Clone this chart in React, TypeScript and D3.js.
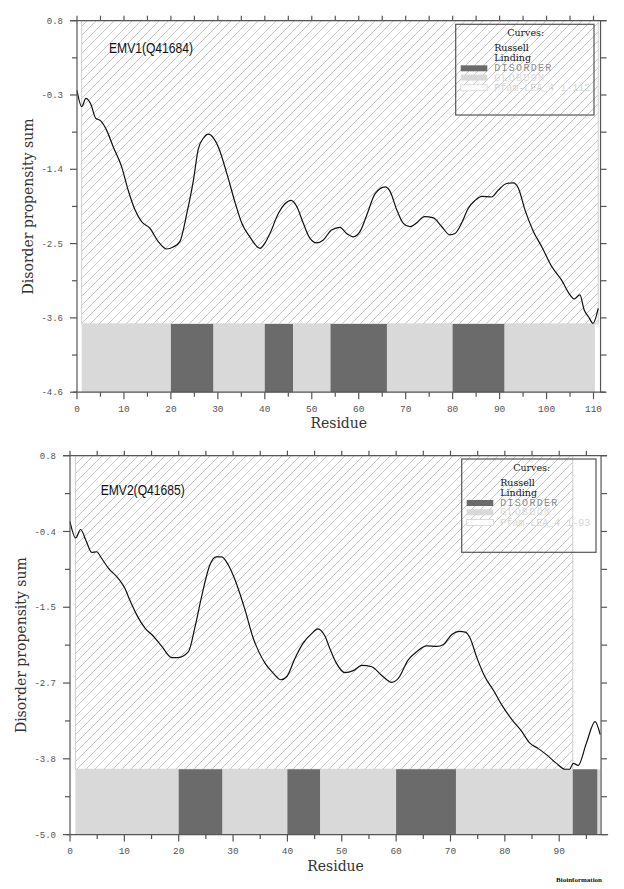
import React from "react";
import * as d3 from "d3";

// ---------- DATA ----------
const emv1Residues = [0, 1, 1.9, 2.9, 4, 5, 6.3, 7.7, 9.5, 10.9, 12.35, 13.8, 15.5, 17.3, 19.1, 20.5, 21.9, 23.4, 24.8, 25.8, 26.9, 28, 29, 30.1, 31.9, 33.7, 35.1, 36.8, 39, 40.05, 41.1, 42.9, 44.3, 45.6, 46.8, 48.2, 49.6, 51.05, 52.4, 54.2, 56, 57.4, 58.85, 60.3, 61.7, 63.5, 65.6, 66.7, 68.1, 69.5, 70.9, 72.4, 74, 75.9, 77.7, 79.4, 80.5, 81.9, 83.3, 84.8, 86.2, 88.3, 89.7, 91.5, 92.9, 94, 95.4, 97.2, 99, 101.1, 103.2, 105, 105.9, 107.1, 108, 109, 109.9, 111];
const emv1Values = [-0.23, -0.47, -0.35, -0.43, -0.645, -0.68, -0.82, -1.065, -1.36, -1.71, -2.0, -2.18, -2.27, -2.47, -2.58, -2.55, -2.47, -2.05, -1.56, -1.11, -0.94, -0.88, -0.93, -1.07, -1.46, -1.9, -2.2, -2.4, -2.57, -2.49, -2.35, -2.05, -1.91, -1.86, -1.95, -2.2, -2.42, -2.49, -2.45, -2.3, -2.26, -2.35, -2.4, -2.32, -2.08, -1.76, -1.66, -1.73, -2.0, -2.2, -2.25, -2.19, -2.1, -2.12, -2.25, -2.37, -2.35, -2.2, -1.98, -1.86, -1.8, -1.81, -1.71, -1.61, -1.6, -1.68, -2.0, -2.32, -2.55, -2.84, -3.04, -3.26, -3.32, -3.26, -3.48, -3.59, -3.68, -3.46];

const emv2Residues = [0, 1.04, 1.96, 2.9, 4, 4.9, 5.8, 7.05, 8.9, 10.1, 11, 12.3, 13.8, 15.3, 16.9, 18.7, 19.9, 21.8, 23, 24.2, 25.75, 26.9, 27.9, 29.1, 30.35, 32.2, 33.7, 35.9, 37.4, 38.8, 39.9, 41.4, 42.9, 44.5, 45.6, 46.9, 47.8, 48.9, 50.6, 52.1, 53.7, 55.5, 57.3, 59.2, 60.4, 62.2, 63.8, 65.6, 67.5, 68.7, 70.2, 71.7, 72.7, 73.6, 74.8, 76.3, 77.9, 79.4, 81.3, 83.1, 84.6, 86.1, 87.7, 89.5, 91.1, 91.9, 92.6, 93.5, 95, 96.6, 97.55];
const emv2Values = [-0.21, -0.46, -0.33, -0.49, -0.68, -0.67, -0.77, -0.92, -1.08, -1.23, -1.41, -1.64, -1.84, -1.96, -2.12, -2.29, -2.29, -2.2, -1.82, -1.36, -0.87, -0.75, -0.75, -0.87, -1.1, -1.56, -1.99, -2.38, -2.53, -2.63, -2.58, -2.3, -2.07, -1.92, -1.85, -1.96, -2.15, -2.36, -2.52, -2.49, -2.41, -2.43, -2.56, -2.67, -2.61, -2.33, -2.2, -2.11, -2.12, -2.09, -1.94, -1.89, -1.9, -1.99, -2.28, -2.58, -2.79, -3.01, -3.24, -3.42, -3.6, -3.68, -3.78, -3.91, -4.0, -4.0, -3.91, -3.94, -3.6, -3.27, -3.47];

const emv1DisorderStart = [20, 40, 54, 80];
const emv1DisorderEnd = [29, 46, 66, 91];
const emv2DisorderStart = [20, 40, 60, 92.5];
const emv2DisorderEnd = [28, 46, 71, 97];

const emv1YTickLabels = ["0.8", "-0.3", "-1.4", "-2.5", "-3.6", "-4.6"];
const emv2YTickLabels = ["0.8", "-0.4", "-1.5", "-2.7", "-3.8", "-5.0"];
const emv1XTicks = [0, 10, 20, 30, 40, 50, 60, 70, 80, 90, 100, 110];
const emv2XTicks = [0, 10, 20, 30, 40, 50, 60, 70, 80, 90];

const legendCurves = ["Russell", "Linding"];
const legendItems = ["DISORDER", "GLOBDOM"];

const MONO = "'Liberation Mono', 'DejaVu Sans Mono', monospace";
const SERIF = "'DejaVu Serif', 'Liberation Serif', serif";
const AXIS = "#555";
const LIGHT = "#d9d9d9";
const DARK = "#6b6b6b";

type ChartProps = {
  id: string;
  title: string;
  titleX: number;
  titleY: number;
  residues: number[];
  values: number[];
  dStart: number[];
  dEnd: number[];
  yLabels: string[];
  xTicks: number[];
  xDomainMax: number;
  xRange: [number, number];
  yDomain: [number, number];
  yRange: [number, number];
  bandTop: number;
  globEnd: number;
  pfamEnd: number;
  rightR: number;
  axisEndR: number;
  legendX: number;
  legendY: number;
  legendW: number;
  legendH: number;
  pfamLabel: string;
};

function Chart(p: ChartProps) {
  const x = d3.scaleLinear().domain([0, p.xDomainMax]).range(p.xRange);
  const y = d3.scaleLinear().domain(p.yDomain).range(p.yRange);
  const [yMin, yMax] = p.yDomain;
  const step = (yMax - yMin) / (p.yLabels.length - 1);
  const yTickVals = p.yLabels.map((_, i) => yMax - i * step);
  const yMinorVals = d3.range(p.yLabels.length - 1).map((i) => yMax - (i + 0.5) * step);
  const allY = [...yTickVals, ...yMinorVals];
  const top = y(yMax);
  const bottom = y(yMin);
  const left = x(0);
  const right = x(p.rightR);
  const minorX = d3.range(5, p.axisEndR, 10).filter((v) => v < p.rightR + 1);
  const topTicks = d3.range(0, p.rightR, 5);

  const line = d3
    .line<number>()
    .x((_, i) => x(p.residues[i]))
    .y((v) => y(v))
    .curve(d3.curveMonotoneX);

  const lx = p.legendX;
  const ly = p.legendY;

  return (
    <g>
      {/* Pfam hatched region */}
      <rect
        x={x(1)}
        y={top}
        width={x(p.pfamEnd) - x(1)}
        height={y(p.bandTop) - top}
        fill={`url(#hatch-${p.id})`}
        stroke="#cfcfcf"
        strokeWidth={1}
      />
      {/* GLOBDOM band */}
      <rect x={x(1)} y={y(p.bandTop)} width={x(p.globEnd) - x(1)} height={bottom - y(p.bandTop)} fill={LIGHT} />
      {p.dStart.map((s, i) => (
        <rect key={i} x={x(s)} y={y(p.bandTop)} width={x(p.dEnd[i]) - x(s)} height={bottom - y(p.bandTop)} fill={DARK} />
      ))}

      {/* legend */}
      <rect x={lx} y={ly} width={p.legendW} height={p.legendH} fill="none" stroke="#555" strokeWidth={1.2} />
      <text x={lx + 70} y={ly + 12} textAnchor="middle" fontFamily={SERIF} fontSize={9.5} fill="#222">Curves:</text>
      {legendCurves.map((t, i) => (
        <text key={t} x={lx + 38.5} y={ly + 27 + i * 10} fontFamily={SERIF} fontSize={9.5} fill="#111">{t}</text>
      ))}
      <rect x={lx + 5} y={ly + 41} width={26.6} height={6} fill={DARK} />
      <rect x={lx + 5} y={ly + 50.3} width={26.6} height={6} fill={LIGHT} />
      <rect x={lx + 5} y={ly + 60.5} width={26.6} height={6} fill="#fff" stroke="#d4d4d4" strokeWidth={0.8} />
      <text x={lx + 38.5} y={ly + 47} fontFamily={MONO} fontSize={10} letterSpacing={1.3} fill="#8c8c8c">{legendItems[0]}</text>
      <text x={lx + 38.5} y={ly + 56.3} fontFamily={MONO} fontSize={10} letterSpacing={1.3} fill="#dadada">{legendItems[1]}</text>
      <text x={lx + 38.5} y={ly + 66.5} fontFamily={MONO} fontSize={10} fill="#d6d6d6">{p.pfamLabel}</text>

      {/* curve */}
      <path d={line(p.values) || ""} fill="none" stroke="#111" strokeWidth={1.2} />

      {/* axes */}
      <line x1={left} x2={left} y1={top} y2={bottom} stroke={AXIS} strokeWidth={1.2} />
      <line x1={left - 7} x2={right + 6} y1={top} y2={top} stroke={AXIS} strokeWidth={1.2} />
      <line x1={right} x2={right} y1={top} y2={bottom} stroke={AXIS} strokeWidth={1.2} />
      <line x1={left - 4} x2={x(p.axisEndR)} y1={bottom} y2={bottom} stroke={AXIS} strokeWidth={1.2} />

      {yTickVals.map((v, i) => (
        <g key={"yt" + i}>
          <line x1={left - 7} x2={left} y1={y(v)} y2={y(v)} stroke={AXIS} strokeWidth={1.2} />
          <text x={left - 14} y={y(v)} dy="0.35em" textAnchor="end" fontFamily={MONO} fontSize={9} fill="#555">
            {p.yLabels[i]}
          </text>
        </g>
      ))}
      {yMinorVals.map((v, i) => (
        <line key={"ym" + i} x1={left - 5} x2={left} y1={y(v)} y2={y(v)} stroke={AXIS} strokeWidth={1.2} />
      ))}
      {allY.map((v, i) => (
        <line key={"yr" + i} x1={right} x2={right + 6} y1={y(v)} y2={y(v)} stroke={AXIS} strokeWidth={1.2} />
      ))}
      {topTicks.map((v, i) => (
        <line key={"tt" + i} x1={x(v)} x2={x(v)} y1={top - 5} y2={top} stroke={AXIS} strokeWidth={1.2} />
      ))}
      {p.xTicks.map((v) => (
        <g key={"xt" + v}>
          <line x1={x(v)} x2={x(v)} y1={bottom} y2={bottom + 7} stroke={AXIS} strokeWidth={1.2} />
          <text x={x(v)} y={bottom + 19.5} textAnchor="middle" fontFamily={MONO} fontSize={9.5} fill="#555">
            {v}
          </text>
        </g>
      ))}
      {minorX.map((v) => (
        <line key={"xm" + v} x1={x(v)} x2={x(v)} y1={bottom} y2={bottom + 4.5} stroke={AXIS} strokeWidth={1.2} />
      ))}

      {/* axis titles */}
      <text x={(left + x(p.rightR)) / 2} y={bottom + 36} textAnchor="middle" fontFamily={SERIF} fontSize={14} fill="#333">
        Residue
      </text>
      <text
        transform={`translate(${left - 44},${(top + bottom) / 2}) rotate(-90)`}
        textAnchor="middle"
        fontFamily={SERIF}
        fontSize={14}
        fill="#333"
      >
        Disorder propensity sum
      </text>

      {/* panel title */}
      <text x={p.titleX} y={p.titleY} fontFamily="'Liberation Sans', Arial, sans-serif" fontSize={14.5} textLength={84} lengthAdjust="spacingAndGlyphs" fill="#111">
        {p.title}
      </text>
    </g>
  );
}

export default function App() {
  return (
    <div style={{ position: "absolute", left: 0, top: 0 }}>
      <svg width={624} height={889} viewBox="0 0 624 889" style={{ display: "block", background: "#fff" }}>
        <defs>
          {["a", "b"].map((id) => (
            <pattern key={id} id={`hatch-${id}`} patternUnits="userSpaceOnUse" width={9} height={9}>
              <rect width={9} height={9} fill="#fff" />
              <path d="M-1,1 L1,-1 M0,9 L9,0 M8,10 L10,8" stroke="#c6c6c6" strokeWidth={1} />
            </pattern>
          ))}
        </defs>
        <Chart
          id="a"
          title="EMV1(Q41684)"
          titleX={109}
          titleY={52.5}
          residues={emv1Residues}
          values={emv1Values}
          dStart={emv1DisorderStart}
          dEnd={emv1DisorderEnd}
          yLabels={emv1YTickLabels}
          xTicks={emv1XTicks}
          xDomainMax={110}
          xRange={[77, 593.5]}
          yDomain={[-4.7, 0.8]}
          yRange={[392.2, 20.7]}
          bandTop={-3.69}
          globEnd={110.3}
          pfamEnd={111}
          rightR={111.5}
          axisEndR={112.5}
          legendX={455.7}
          legendY={24.3}
          legendW={138.3}
          legendH={90.7}
          pfamLabel="Pfam-LEA_4 1-112"
        />
        <Chart
          id="b"
          title="EMV2(Q41685)"
          titleX={100.7}
          titleY={495}
          residues={emv2Residues}
          values={emv2Values}
          dStart={emv2DisorderStart}
          dEnd={emv2DisorderEnd}
          yLabels={emv2YTickLabels}
          xTicks={emv2XTicks}
          xDomainMax={90}
          xRange={[70, 559.2]}
          yDomain={[-5.0, 0.8]}
          yRange={[834.6, 455.7]}
          bandTop={-4.0}
          globEnd={97.6}
          pfamEnd={92.5}
          rightR={97.7}
          axisEndR={99}
          legendX={461.7}
          legendY={459}
          legendW={134.3}
          legendH={93.3}
          pfamLabel="Pfam-LEA_4 1-93"
        />
        <text x={602} y={882} textAnchor="end" fontFamily="'Liberation Serif', 'DejaVu Serif', serif" fontWeight="bold" fontSize={7} fill="#111">
          Bioinformation
        </text>
      </svg>
    </div>
  );
}
